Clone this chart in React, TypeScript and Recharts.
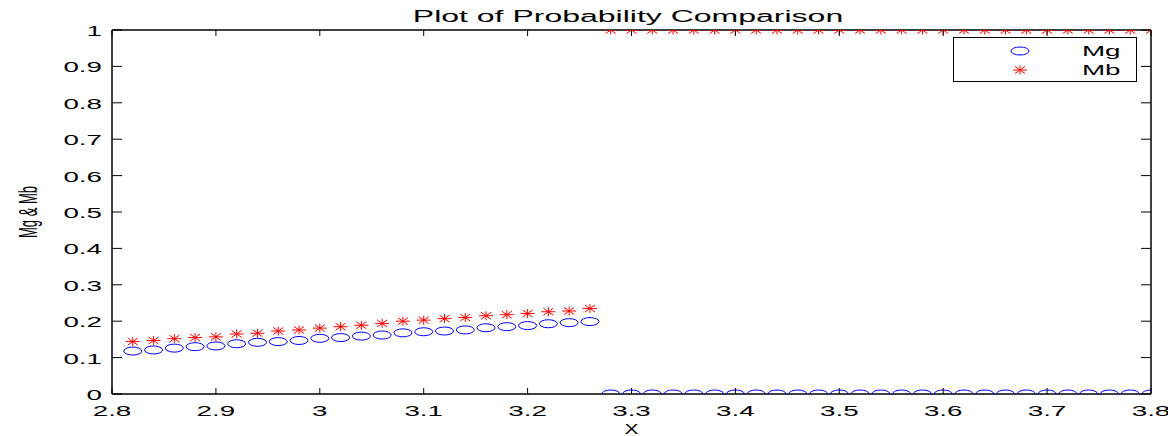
import React from "react";
import { ScatterChart, Scatter, XAxis, YAxis, Legend } from "recharts";

// x positions of the samples
const xLow = [2.82, 2.84, 2.86, 2.88, 2.9, 2.92, 2.94, 2.96, 2.98, 3.0, 3.02, 3.04, 3.06, 3.08, 3.1, 3.12, 3.14, 3.16, 3.18, 3.2, 3.22, 3.24, 3.26];
const xHigh = [3.28, 3.3, 3.32, 3.34, 3.36, 3.38, 3.4, 3.42, 3.44, 3.46, 3.48, 3.5, 3.52, 3.54, 3.56, 3.58, 3.6, 3.62, 3.64, 3.66, 3.68, 3.7, 3.72, 3.74, 3.76, 3.78, 3.8];

const mgLow = [0.118, 0.121, 0.126, 0.13, 0.132, 0.138, 0.142, 0.144, 0.147, 0.153, 0.155, 0.159, 0.162, 0.168, 0.171, 0.173, 0.176, 0.182, 0.185, 0.188, 0.193, 0.196, 0.199];
const mbLow = [0.144, 0.147, 0.152, 0.155, 0.157, 0.165, 0.167, 0.173, 0.176, 0.181, 0.185, 0.189, 0.194, 0.2, 0.203, 0.207, 0.21, 0.215, 0.218, 0.221, 0.226, 0.228, 0.235];
const mgHigh = [0, 0, 0, 0, 0, 0, 0, 0, 0, 0, 0, 0, 0, 0, 0, 0, 0, 0, 0, 0, 0, 0, 0, 0, 0, 0, 0];
const mbHigh = [1, 1, 1, 1, 1, 1, 1, 1, 1, 1, 1, 1, 1, 1, 1, 1, 1, 1, 1, 1, 1, 1, 1, 1, 1, 1, 1];

const xTicks = [2.8, 2.9, 3, 3.1, 3.2, 3.3, 3.4, 3.5, 3.6, 3.7, 3.8];
const yTicks = [0, 0.1, 0.2, 0.3, 0.4, 0.5, 0.6, 0.7, 0.8, 0.9, 1];

const mgData = [...xLow.map((x, i) => ({ x, y: mgLow[i] })), ...xHigh.map((x, i) => ({ x, y: mgHigh[i] }))];
const mbData = [...xLow.map((x, i) => ({ x, y: mbLow[i] })), ...xHigh.map((x, i) => ({ x, y: mbHigh[i] }))];

const FONT = "'Liberation Sans', Arial, sans-serif";
const SX = 1.85;

function Ring(props: any) {
  const { cx, cy } = props;
  return <ellipse cx={cx} cy={cy} rx={9} ry={4} fill="none" stroke="#0000ff" strokeWidth={1} />;
}

function Star(props: any) {
  const { cx, cy } = props;
  return (
    <g stroke="#ff0000" strokeWidth={1}>
      <line x1={cx - 7} y1={cy} x2={cx + 7} y2={cy} />
      <line x1={cx} y1={cy - 4.5} x2={cx} y2={cy + 4.5} />
      <line x1={cx - 5} y1={cy - 3.5} x2={cx + 5} y2={cy + 3.5} />
      <line x1={cx - 5} y1={cy + 3.5} x2={cx + 5} y2={cy - 3.5} />
    </g>
  );
}

function Nothing() {
  return <g />;
}

function BottomTick(p: any) {
  return (
    <g>
      <line x1={p.x} y1={p.y} x2={p.x} y2={p.y - 6} stroke="#000" />
      <text transform={`translate(${p.x},${p.y + 22}) scale(${SX},1)`} textAnchor="middle" fontSize={15} fontFamily={FONT} fill="#000">
        {String(p.payload.value)}
      </text>
    </g>
  );
}

function TopTick(p: any) {
  return <line x1={p.x} y1={p.y} x2={p.x} y2={p.y + 6} stroke="#000" />;
}

function LeftTick(p: any) {
  return (
    <g>
      <line x1={p.x} y1={p.y} x2={p.x + 10} y2={p.y} stroke="#000" />
      <text transform={`translate(${p.x - 10},${p.y + 6}) scale(${SX},1)`} textAnchor="end" fontSize={15} fontFamily={FONT} fill="#000">
        {String(p.payload.value)}
      </text>
    </g>
  );
}

function RightTick(p: any) {
  return <line x1={p.x} y1={p.y} x2={p.x - 10} y2={p.y} stroke="#000" />;
}

function renderLegend() {
  return (
    <svg width={184} height={45} style={{ display: "block" }}>
      <rect x={0.5} y={0.5} width={183} height={44} fill="#fff" stroke="#000" strokeWidth={1} />
      <Ring cx={67} cy={14} />
      <Star cx={67} cy={33} />
      <text transform={`translate(129,19) scale(${SX},1)`} fontSize={15} fontFamily={FONT} fill="#000">Mg</text>
      <text transform={`translate(129,38) scale(${SX},1)`} fontSize={15} fontFamily={FONT} fill="#000">Mb</text>
    </svg>
  );
}

export default function App() {
  return (
    <div style={{ position: "relative", width: 1160, height: 428 }}>
      <div
        style={{
          position: "absolute",
          left: 620,
          top: 0,
          transform: "translateX(-50%) scaleX(2)",
          fontFamily: FONT,
          fontSize: 16,
          lineHeight: "18px",
          whiteSpace: "nowrap",
          color: "#000",
        }}
      >
        Plot of Probability Comparison
      </div>
      <ScatterChart width={1160} height={428} margin={{ top: 21, right: 16, bottom: 0, left: 0 }}>
        <XAxis
          xAxisId="b"
          dataKey="x"
          type="number"
          domain={[2.8, 3.8]}
          ticks={xTicks}
          allowDataOverflow
          height={42}
          tickSize={0}
          tickMargin={0}
          tickLine={false}
          axisLine={{ stroke: "#000", strokeWidth: 1.5 }}
          tick={<BottomTick />}
          interval={0}
          label={(props: any) => {
            const vb = props.viewBox;
            return (
              <text transform={`translate(${vb.x + vb.width / 2},${vb.y + 40}) scale(1.4,1)`} textAnchor="middle" fontSize={15} fontFamily={FONT} fill="#000">
                X
              </text>
            );
          }}
        />
        <XAxis
          xAxisId="t"
          dataKey="x"
          orientation="top"
          type="number"
          domain={[2.8, 3.8]}
          ticks={xTicks}
          allowDataOverflow
          height={1}
          tickSize={0}
          tickMargin={0}
          tickLine={false}
          axisLine={{ stroke: "#000", strokeWidth: 1.5 }}
          tick={<TopTick />}
          interval={0}
        />
        <YAxis
          yAxisId="l"
          dataKey="y"
          type="number"
          domain={[0, 1]}
          ticks={yTicks}
          allowDataOverflow
          width={104}
          tickSize={0}
          tickMargin={0}
          tickLine={false}
          axisLine={{ stroke: "#000", strokeWidth: 1.5 }}
          tick={<LeftTick />}
          interval={0}
          label={(props: any) => {
            const vb = props.viewBox;
            return (
              <text transform={`translate(${29},${vb.y + vb.height / 2}) rotate(-90) scale(1,2)`} textAnchor="middle" fontSize={13} fontFamily={FONT} fill="#000">
                Mg &amp; Mb
              </text>
            );
          }}
        />
        <YAxis
          yAxisId="r"
          dataKey="y"
          orientation="right"
          type="number"
          domain={[0, 1]}
          ticks={yTicks}
          allowDataOverflow
          width={1}
          tickSize={0}
          tickMargin={0}
          tickLine={false}
          axisLine={{ stroke: "#000", strokeWidth: 1.5 }}
          tick={<RightTick />}
          interval={0}
        />
        <Legend
          layout="horizontal"
          verticalAlign="middle"
          align="center"
          content={renderLegend}
          wrapperStyle={{ position: "absolute", left: 945, top: 29, width: 184, height: 45 }}
        />
        <Scatter name="frame" data={mgData} xAxisId="t" yAxisId="r" shape={<Nothing />} legendType="none" isAnimationActive={false} />
        <Scatter name="Mg" data={mgData} xAxisId="b" yAxisId="l" shape={<Ring />} isAnimationActive={false} />
        <Scatter name="Mb" data={mbData} xAxisId="b" yAxisId="l" shape={<Star />} isAnimationActive={false} />
      </ScatterChart>
    </div>
  );
}
